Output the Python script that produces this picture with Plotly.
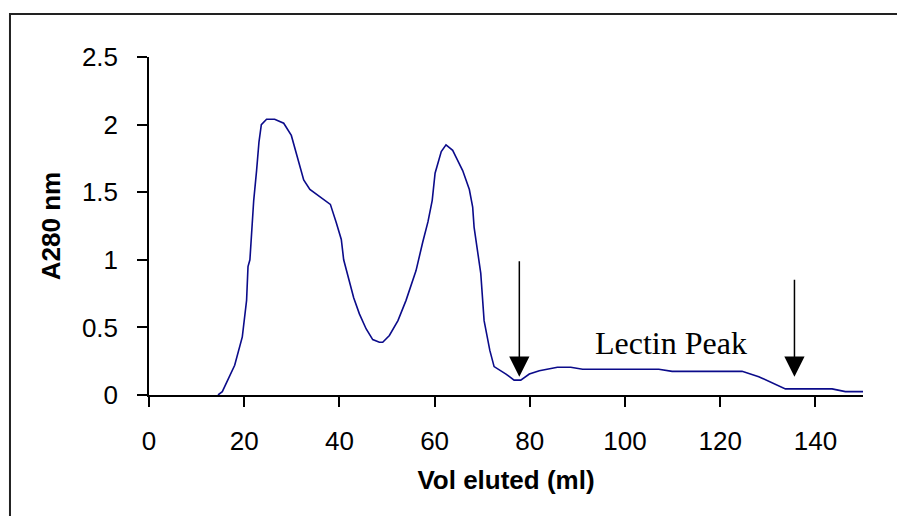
import plotly.graph_objects as go

# Elution profile
vol_ml = [14.5, 15.4, 18.0, 18.9, 19.6, 20.5, 20.8, 21.2, 22.0, 22.6, 23.1, 23.6,
          24.7, 26.4, 28.3, 29.9, 31.2, 32.5, 33.8, 35.8, 38.1, 39.3, 40.4, 40.9,
          42.0, 43.0, 44.2, 45.6, 47.0, 48.4, 49.1, 50.5, 52.3, 54.0, 56.1, 57.0,
          57.5, 58.6, 59.5, 60.1, 61.4, 62.4, 63.8, 64.5, 65.9, 67.3, 68.0, 68.3,
          69.2, 69.7, 70.4, 71.6, 72.5, 75.0, 76.7, 78.1, 79.9, 82.0, 85.8, 88.6,
          91.1, 107.1, 109.9, 124.6, 128.1, 130.2, 133.7, 143.5, 146.3, 150.0]
a280 = [0.0, 0.025, 0.22, 0.345, 0.43, 0.70, 0.95, 1.0, 1.44, 1.66, 1.87, 2.0,
        2.04, 2.04, 2.01, 1.92, 1.76, 1.59, 1.52, 1.47, 1.41, 1.28, 1.15, 1.0,
        0.86, 0.72, 0.60, 0.49, 0.41, 0.39, 0.39, 0.44, 0.55, 0.70, 0.92, 1.07,
        1.13, 1.28, 1.44, 1.64, 1.80, 1.85, 1.81, 1.76, 1.66, 1.52, 1.39, 1.24,
        1.0, 0.90, 0.55, 0.33, 0.21, 0.155, 0.11, 0.11, 0.155, 0.18, 0.205, 0.205,
        0.19, 0.19, 0.175, 0.175, 0.135, 0.10, 0.045, 0.045, 0.025, 0.025]

# Arrows marking the lectin peak fraction
arrow_x = [77.8, 135.6]
arrow_top = [1.0, 0.863]
arrow_tip = [0.135, 0.135]

label_text = "Lectin Peak"
label_x = 109.7
label_y = 0.385

x_ticks = [0, 20, 40, 60, 80, 100, 120, 140]
y_ticks = [0, 0.5, 1, 1.5, 2, 2.5]
y_tick_text = ["0", "0.5", "1", "1.5", "2", "2.5"]

SANS = "Liberation Sans, Arial, sans-serif"
SERIF = "Liberation Serif, Times New Roman, serif"

fig = go.Figure()
fig.add_trace(go.Scatter(x=vol_ml, y=a280, mode="lines",
                         line=dict(color="#0b0b8a", width=1.6),
                         showlegend=False, hoverinfo="skip"))

annotations = []
for xa, yt, yb in zip(arrow_x, arrow_top, arrow_tip):
    annotations.append(dict(x=xa, y=yb, ax=xa, ay=yt, xref="x", yref="y",
                            axref="x", ayref="y", text="", showarrow=True,
                            arrowhead=2, arrowsize=2.7, arrowwidth=1.5,
                            arrowcolor="black", standoff=0))
annotations.append(dict(x=label_x, y=label_y, xref="x", yref="y", text=label_text,
                        showarrow=False, font=dict(family=SERIF, size=32, color="black"),
                        xanchor="center", yanchor="middle"))

fig.update_layout(
    width=897, height=516,
    margin=dict(l=149, r=34, t=57, b=121),
    paper_bgcolor="white", plot_bgcolor="white",
    font=dict(family=SANS, color="black"),
    annotations=annotations,
    shapes=[dict(type="path", xref="paper", yref="paper",
                 path="M -0.1947,-0.5 L -0.1947,1.1272 L 1.1,1.1272",
                 line=dict(color="#222222", width=2))],
    xaxis=dict(range=[0, 150], tickvals=x_ticks, ticks="outside", ticklen=10,
               tickwidth=1.5, tickcolor="black", showline=True, linecolor="black",
               linewidth=1.5, showgrid=False, zeroline=False,
               tickfont=dict(family=SANS, size=26), ticklabelstandoff=12,
               title=dict(text="<b>Vol eluted (ml)</b>", font=dict(family=SANS, size=26),
                          standoff=16)),
    yaxis=dict(range=[0, 2.5], tickvals=y_ticks, ticktext=y_tick_text,
               ticks="outside", ticklen=10,
               tickwidth=1.5, tickcolor="black", showline=True, linecolor="black",
               linewidth=1.5, showgrid=False, zeroline=False,
               tickfont=dict(family=SANS, size=26), ticklabelstandoff=14,
               title=dict(text="<b>A280 nm</b>", font=dict(family=SANS, size=26),
                          standoff=14)),
)

fig.write_html("out.html")
